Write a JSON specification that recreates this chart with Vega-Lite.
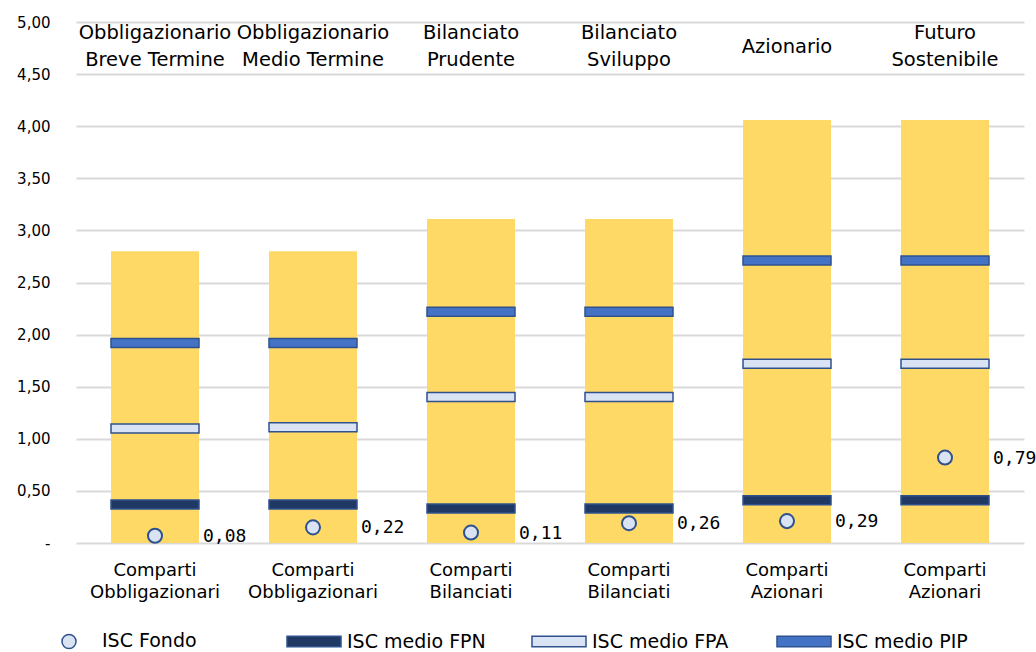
{
  "$schema": "https://vega.github.io/schema/vega-lite/v6.json",
  "width": 948,
  "height": 521,
  "autosize": {"type": "none"},
  "padding": {"left": 76, "top": 22, "right": 12, "bottom": 109},
  "background": "#ffffff",
  "config": {
    "locale": {"number": {"decimal": ",", "thousands": ".", "grouping": [3], "currency": ["€", ""]}},
    "view": {"stroke": null},
    "font": "DejaVu Sans"
  },
  "datasets": {
    "fondi": [
      {"fondo": "Obbligazionario\nBreve Termine", "comparto": "Comparti\nObbligazionari", "ISC massimo": 2.80, "ISC medio FPN": 0.37, "ISC medio FPA": 1.10, "ISC medio PIP": 1.92, "ISC Fondo": 0.07, "ISC Fondo dato": 0.08},
      {"fondo": "Obbligazionario\nMedio Termine", "comparto": "Comparti\nObbligazionari", "ISC massimo": 2.80, "ISC medio FPN": 0.37, "ISC medio FPA": 1.11, "ISC medio PIP": 1.92, "ISC Fondo": 0.15, "ISC Fondo dato": 0.22},
      {"fondo": "Bilanciato\nPrudente", "comparto": "Comparti\nBilanciati", "ISC massimo": 3.11, "ISC medio FPN": 0.33, "ISC medio FPA": 1.40, "ISC medio PIP": 2.22, "ISC Fondo": 0.10, "ISC Fondo dato": 0.11},
      {"fondo": "Bilanciato\nSviluppo", "comparto": "Comparti\nBilanciati", "ISC massimo": 3.11, "ISC medio FPN": 0.33, "ISC medio FPA": 1.40, "ISC medio PIP": 2.22, "ISC Fondo": 0.19, "ISC Fondo dato": 0.26},
      {"fondo": "Azionario", "comparto": "Comparti\nAzionari", "ISC massimo": 4.06, "ISC medio FPN": 0.41, "ISC medio FPA": 1.72, "ISC medio PIP": 2.71, "ISC Fondo": 0.21, "ISC Fondo dato": 0.29},
      {"fondo": "Futuro\nSostenibile", "comparto": "Comparti\nAzionari", "ISC massimo": 4.06, "ISC medio FPN": 0.41, "ISC medio FPA": 1.72, "ISC medio PIP": 2.71, "ISC Fondo": 0.82, "ISC Fondo dato": 0.79}
    ]
  },
  "data": {"name": "fondi"},
  "encoding": {
    "x": {
      "field": "fondo",
      "type": "nominal",
      "sort": null,
      "scale": {"paddingInner": 0.443, "paddingOuter": 0.2215},
      "axis": {
        "title": null,
        "domain": false,
        "ticks": false,
        "labelAngle": 0,
        "labelFontSize": 18,
        "labelColor": "#000000",
        "labelPadding": 18,
        "labelLineHeight": 22,
        "labelExpr": "indexof(datum.value, 'Obbligazionario') == 0 ? ['Comparti', 'Obbligazionari'] : (indexof(datum.value, 'Bilanciato') == 0 ? ['Comparti', 'Bilanciati'] : ['Comparti', 'Azionari'])"
      }
    }
  },
  "layer": [
    {
      "mark": {"type": "bar", "color": "#ffd966"},
      "encoding": {
        "y": {
          "field": "ISC massimo",
          "type": "quantitative",
          "scale": {"domain": [0, 5], "nice": false},
          "axis": {
            "title": null,
            "domain": false,
            "ticks": false,
            "values": [0, 0.5, 1, 1.5, 2, 2.5, 3, 3.5, 4, 4.5, 5],
            "format": ",.2f",
            "labelExpr": "datum.value == 0 ? '-\u2007\u2007' : datum.label",
            "labelFontSize": 15,
            "labelColor": "#000000",
            "labelPadding": 26,
            "gridColor": "#d9d9d9",
            "gridWidth": 2
          }
        }
      }
    },
    {
      "transform": [{"fold": ["ISC Fondo"], "as": ["serie", "valore"]}],
      "mark": {"type": "point", "filled": true, "opacity": 1, "size": 2916, "stroke": "#2f528f", "strokeWidth": 2},
      "encoding": {
        "y": {"field": "valore", "type": "quantitative", "title": null},
        "fill": {
          "field": "serie",
          "type": "nominal",
          "scale": {"domain": ["ISC Fondo", "ISC medio FPN", "ISC medio FPA", "ISC medio PIP"], "range": ["#dae3f3", "#203864", "#dae3f3", "#4472c4"]},
          "legend": {
            "title": null, "orient": "none", "legendX": -35, "legendY": 591, "direction": "horizontal", "columns": 4, "gridAlign": "all",
            "labelFontSize": 19, "labelColor": "#000000", "labelOffset": 5, "columnPadding": 43, "symbolSize": 2916,
            "encode": {"symbols": {"stroke": {"value": "#2f528f"}, "strokeWidth": {"value": 1.5}, "opacity": {"value": 1}}}
          }
        },
        "shape": {
          "field": "serie",
          "type": "nominal",
          "scale": {"domain": ["ISC Fondo", "ISC medio FPN", "ISC medio FPA", "ISC medio PIP"], "range": ["M0.26,0A0.26,0.26 0 1,1 -0.26,0A0.26,0.26 0 1,1 0.26,0Z", "M-1,-0.19H1V0.19H-1Z", "M-1,-0.19H1V0.19H-1Z", "M-1,-0.19H1V0.19H-1Z"]},
          "legend": {
            "title": null, "orient": "none", "legendX": -35, "legendY": 591, "direction": "horizontal", "columns": 4, "gridAlign": "all",
            "labelFontSize": 19, "labelColor": "#000000", "labelOffset": 5, "columnPadding": 43, "symbolSize": 2916,
            "encode": {"symbols": {"stroke": {"value": "#2f528f"}, "strokeWidth": {"value": 1.5}, "opacity": {"value": 1}}}
          }
        }
      }
    },
    {
      "transform": [{"fold": ["ISC medio FPN"], "as": ["serie", "valore"]}],
      "mark": {"type": "tick", "orient": "horizontal", "size": 88, "thickness": 9, "fill": "#203864", "stroke": "#2f528f", "strokeWidth": 1.5, "opacity": 1},
      "encoding": {"y": {"field": "valore", "type": "quantitative", "title": null}}
    },
    {
      "transform": [{"fold": ["ISC medio FPA"], "as": ["serie", "valore"]}],
      "mark": {"type": "tick", "orient": "horizontal", "size": 88, "thickness": 9, "fill": "#dae3f3", "stroke": "#2f528f", "strokeWidth": 1.5, "opacity": 1},
      "encoding": {"y": {"field": "valore", "type": "quantitative", "title": null}}
    },
    {
      "transform": [{"fold": ["ISC medio PIP"], "as": ["serie", "valore"]}],
      "mark": {"type": "tick", "orient": "horizontal", "size": 88, "thickness": 9, "fill": "#4472c4", "stroke": "#2f528f", "strokeWidth": 1.5, "opacity": 1},
      "encoding": {"y": {"field": "valore", "type": "quantitative", "title": null}}
    },
    {
      "mark": {"type": "text", "align": "left", "baseline": "middle", "dx": 48, "dy": 1, "font": "DejaVu Sans Mono", "fontSize": 18, "color": "#000000"},
      "encoding": {
        "y": {"field": "ISC Fondo", "type": "quantitative"},
        "text": {"field": "ISC Fondo dato", "type": "quantitative", "format": ",.2f"}
      }
    },
    {
      "transform": [{"filter": "indexof(datum.fondo, '\\n') >= 0"}],
      "mark": {"type": "text", "align": "center", "baseline": "middle", "dy": 11, "fontSize": 19.5, "lineBreak": "\n", "lineHeight": 27, "color": "#000000"},
      "encoding": {
        "y": {"datum": 5},
        "text": {"field": "fondo", "type": "nominal"}
      }
    },
    {
      "transform": [{"filter": "indexof(datum.fondo, '\\n') < 0"}],
      "mark": {"type": "text", "align": "center", "baseline": "middle", "dy": 25, "fontSize": 19.5, "color": "#000000"},
      "encoding": {
        "y": {"datum": 5},
        "text": {"field": "fondo", "type": "nominal"}
      }
    }
  ]
}
